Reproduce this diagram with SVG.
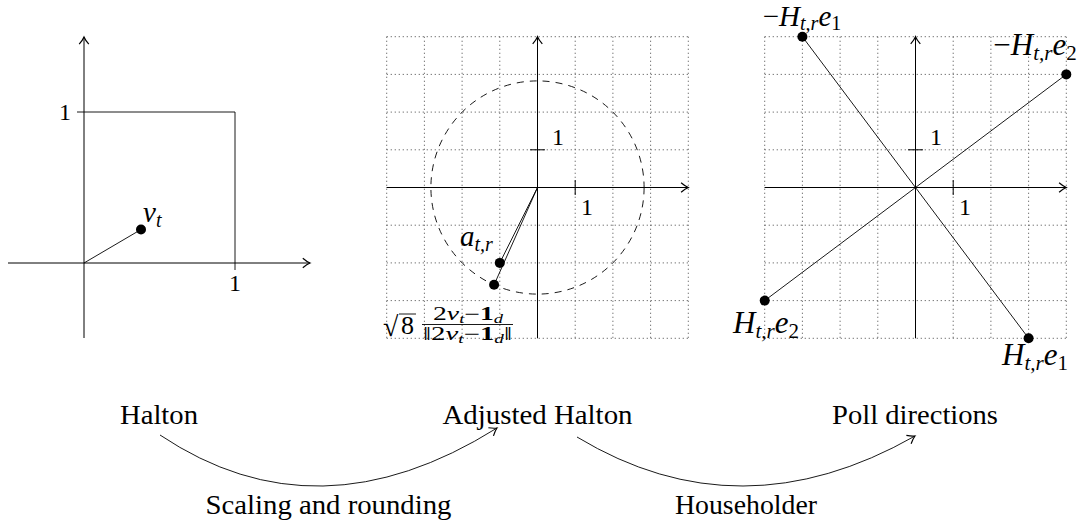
<svg xmlns="http://www.w3.org/2000/svg" width="1088" height="527" viewBox="0 0 1088 527">
<style>
  .ax { stroke:#000; stroke-width:1; fill:none; }
  .ln { stroke:#000; stroke-width:0.9; fill:none; }
  .grid { stroke:#555; stroke-width:0.9; stroke-dasharray:1.2 2.8; fill:none; }
  .dash { stroke:#000; stroke-width:0.9; stroke-dasharray:7 6; fill:none; }
  .dot { fill:#000; }
  text { font-family:"Liberation Serif","Times New Roman",serif; fill:#000; }
  .t { font-size:27px; }
  .n { font-size:24px; }
  .m { font-size:29px; font-style:italic; }
  .h { font-size:31px; font-style:italic; }
  .s { font-size:20px; }
  .s2 { font-size:21px; }
</style>
<defs>
  <marker id="arr" markerUnits="userSpaceOnUse" markerWidth="12" markerHeight="12" viewBox="-7 -5 8 10" refX="0" refY="0" orient="auto">
    <path d="M -6 -4 Q -2.5 -1 0 0 Q -2.5 1 -6 4" fill="none" stroke="#000" stroke-width="1"/>
  </marker>
</defs>

<!-- Left plot: Halton -->
<g id="plot-halton">
  <line class="ax" x1="8" y1="263" x2="310" y2="263" marker-end="url(#arr)"/>
  <line class="ax" x1="84" y1="338" x2="84" y2="37" marker-end="url(#arr)"/>
  <path class="ln" d="M77 112 H235 V270"/>
  <line class="ln" x1="84" y1="263" x2="141" y2="229.5"/>
  <circle class="dot" cx="141" cy="229.5" r="5"/>
  <text class="n" x="71" y="120" text-anchor="end">1</text>
  <text class="n" x="235" y="291" text-anchor="middle">1</text>
  <text class="m" x="143" y="222">v<tspan class="s" dy="5">t</tspan></text>
</g>

<!-- Middle plot: Adjusted Halton -->
<g id="plot-adjusted">
  <g class="grid">
    <path d="M386.7 36.7 V338.3 M424.4 36.7 V338.3 M462.1 36.7 V338.3 M499.8 36.7 V338.3 M537.5 36.7 V338.3 M575.2 36.7 V338.3 M612.9 36.7 V338.3 M650.6 36.7 V338.3 M688.3 36.7 V338.3"/>
    <path d="M386.7 36.7 H688.3 M386.7 74.4 H688.3 M386.7 112.1 H688.3 M386.7 149.8 H688.3 M386.7 187.5 H688.3 M386.7 225.2 H688.3 M386.7 262.9 H688.3 M386.7 300.6 H688.3 M386.7 338.3 H688.3"/>
  </g>
  <line class="ax" x1="386.7" y1="187.5" x2="688.3" y2="187.5" marker-end="url(#arr)"/>
  <line class="ax" x1="537.5" y1="338.3" x2="537.5" y2="36.7" marker-end="url(#arr)"/>
  <line class="ax" x1="530" y1="149.8" x2="545" y2="149.8"/>
  <line class="ax" x1="575.2" y1="180" x2="575.2" y2="195"/>
  <text class="n" x="552" y="145">1</text>
  <text class="n" x="581" y="215">1</text>
  <circle class="dash" cx="537.5" cy="187.5" r="106.6"/>
  <line class="ln" x1="537.5" y1="187.5" x2="499.8" y2="262.9"/>
  <line class="ln" x1="537.5" y1="187.5" x2="494.1" y2="284.8"/>
  <circle class="dot" cx="499.8" cy="262.9" r="5"/>
  <circle class="dot" cx="494.1" cy="284.8" r="5"/>
  <text class="m" x="460" y="246">a<tspan class="s" dy="5">t,r</tspan></text>
  <text x="383" y="336" style="font-size:28px">√</text>
  <line class="ln" x1="399" y1="314" x2="416" y2="314"/>
  <text x="401" y="334" style="font-size:26px">8</text>
  <text x="468" y="320" text-anchor="middle" style="font-size:18px" textLength="70" lengthAdjust="spacingAndGlyphs">2<tspan font-style="italic">v</tspan><tspan font-size="12" font-style="italic" dy="3">t</tspan><tspan dy="-3">−</tspan><tspan font-weight="bold">1</tspan><tspan font-size="12" font-style="italic" dy="3">d</tspan></text>
  <line class="ln" x1="422" y1="324.5" x2="513" y2="324.5"/>
  <text x="467.5" y="340" text-anchor="middle" style="font-size:18px" textLength="89" lengthAdjust="spacingAndGlyphs">‖2<tspan font-style="italic">v</tspan><tspan font-size="12" font-style="italic" dy="3">t</tspan><tspan dy="-3">−</tspan><tspan font-weight="bold">1</tspan><tspan font-size="12" font-style="italic" dy="3">d</tspan><tspan dy="-3">‖</tspan></text>
</g>

<!-- Right plot: Poll directions -->
<g id="plot-poll">
  <g class="grid">
    <path d="M764.7 36.7 V338.3 M802.4 36.7 V338.3 M840.1 36.7 V338.3 M877.8 36.7 V338.3 M915.5 36.7 V338.3 M953.2 36.7 V338.3 M990.9 36.7 V338.3 M1028.6 36.7 V338.3 M1066.3 36.7 V338.3"/>
    <path d="M764.7 36.7 H1066.3 M764.7 74.4 H1066.3 M764.7 112.1 H1066.3 M764.7 149.8 H1066.3 M764.7 187.5 H1066.3 M764.7 225.2 H1066.3 M764.7 262.9 H1066.3 M764.7 300.6 H1066.3 M764.7 338.3 H1066.3"/>
  </g>
  <line class="ax" x1="764.7" y1="187.5" x2="1066.3" y2="187.5" marker-end="url(#arr)"/>
  <line class="ax" x1="915.5" y1="338.3" x2="915.5" y2="36.7" marker-end="url(#arr)"/>
  <line class="ax" x1="908" y1="149.8" x2="923" y2="149.8"/>
  <line class="ax" x1="953.2" y1="180" x2="953.2" y2="195"/>
  <text class="n" x="930" y="145">1</text>
  <text class="n" x="959" y="215">1</text>
  <line class="ln" x1="802.4" y1="36.7" x2="1028.6" y2="338.3"/>
  <line class="ln" x1="764.7" y1="300.6" x2="1066.3" y2="74.4"/>
  <circle class="dot" cx="802.4" cy="36.7" r="5"/>
  <circle class="dot" cx="1028.6" cy="338.3" r="5"/>
  <circle class="dot" cx="1066.3" cy="74.4" r="5"/>
  <circle class="dot" cx="764.7" cy="300.6" r="5"/>
  <text class="h" x="802" y="26" text-anchor="middle" style="font-size:29px"><tspan font-style="normal">−</tspan>H<tspan class="s" dy="4">t,r</tspan><tspan dy="-4">e</tspan><tspan class="s" font-style="normal" dy="4">1</tspan></text>
  <text class="h" x="1035" y="55" text-anchor="middle"><tspan font-style="normal">−</tspan>H<tspan class="s2" dy="5">t,r</tspan><tspan dy="-5">e</tspan><tspan class="s2" font-style="normal" dy="5">2</tspan></text>
  <text class="h" x="766" y="333" text-anchor="middle">H<tspan class="s2" dy="5">t,r</tspan><tspan dy="-5">e</tspan><tspan class="s2" font-style="normal" dy="5">2</tspan></text>
  <text class="h" x="1035" y="365" text-anchor="middle">H<tspan class="s2" dy="5">t,r</tspan><tspan dy="-5">e</tspan><tspan class="s2" font-style="normal" dy="5">1</tspan></text>
</g>

<!-- Captions -->
<g id="node-halton"><text class="t" x="159" y="424" text-anchor="middle" textLength="78" lengthAdjust="spacingAndGlyphs">Halton</text></g>
<g id="node-adjusted"><text class="t" x="537.5" y="424" text-anchor="middle" textLength="190" lengthAdjust="spacingAndGlyphs">Adjusted Halton</text></g>
<g id="node-poll"><text class="t" x="915" y="424" text-anchor="middle" textLength="166" lengthAdjust="spacingAndGlyphs">Poll directions</text></g>

<!-- Connectors -->
<g id="connectors">
  <path class="ln" d="M160 435 Q317.5 540.5 497 428" marker-end="url(#arr)"/>
  <path class="ln" d="M577 437 Q740 535.5 915 436" marker-end="url(#arr)"/>
  <text class="t" x="328.5" y="514" text-anchor="middle" textLength="246" lengthAdjust="spacingAndGlyphs">Scaling and rounding</text>
  <text class="t" x="746" y="514" text-anchor="middle" textLength="142" lengthAdjust="spacingAndGlyphs">Householder</text>
</g>
</svg>
